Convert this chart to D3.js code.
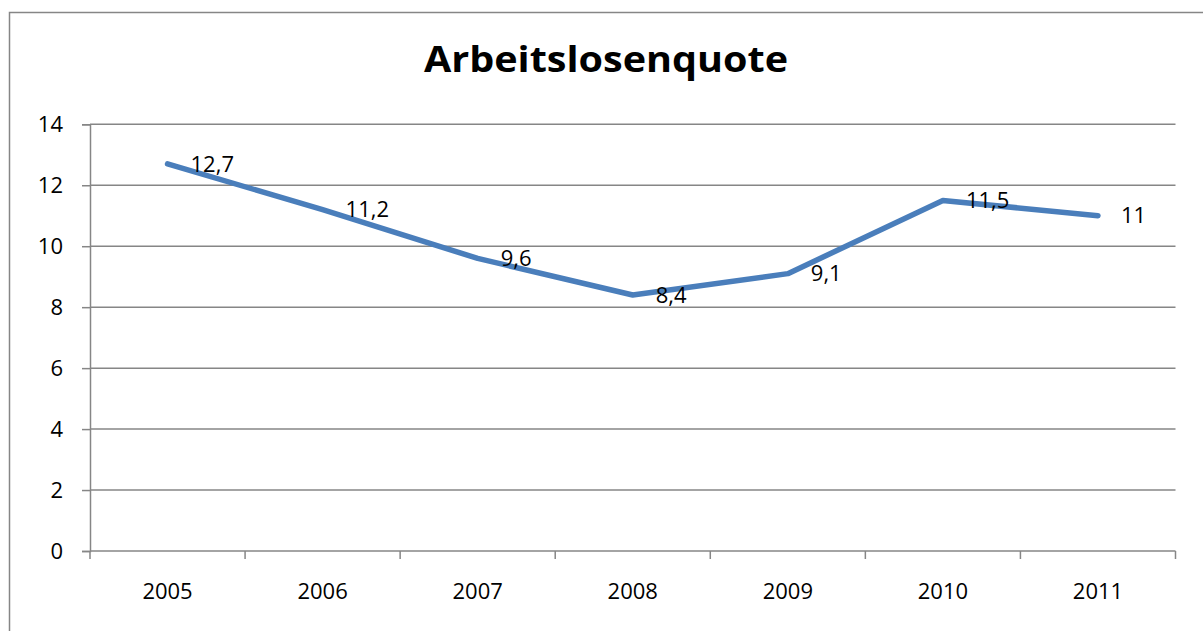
<!DOCTYPE html>
<html><head><meta charset="utf-8">
<script src="https://cdn.jsdelivr.net/npm/d3@7"></script>
<style>
html,body{margin:0;padding:0;background:#fff;}
svg{display:block;font-family:"Open Sans",sans-serif;}
</style></head>
<body>
<svg id="chart" width="1203" height="631"></svg>
<script>
const title = "Arbeitslosenquote";
const categories = ["2005","2006","2007","2008","2009","2010","2011"];
const values = [12.7, 11.2, 9.6, 8.4, 9.1, 11.5, 11];
const labels = ["12,7","11,2","9,6","8,4","9,1","11,5","11"];
const yTicks = [0,2,4,6,8,10,12,14];

const svg = d3.select("#chart");
const mLeft = 90, mRight = 1175.5, mTop = 124.3, mBottom = 551;

// outer border (top + left visible)
svg.append("path").attr("d","M9.5,631 L9.5,12.5 L1203,12.5")
  .attr("fill","none").attr("stroke","#868686").attr("stroke-width",1.5);

svg.append("text").attr("x",606).attr("y",72)
  .attr("text-anchor","middle").attr("font-weight","bold").attr("font-size",35)
  .attr("textLength",364).attr("lengthAdjust","spacingAndGlyphs")
  .attr("fill","#000").text(title);

const x = d3.scaleBand().domain(categories).range([mLeft,mRight]).padding(0);
const y = d3.scaleLinear().domain([0,14]).range([mBottom,mTop]);

// gridlines
svg.append("g").selectAll("line").data(yTicks.filter(d=>d>0)).join("line")
  .attr("x1",mLeft).attr("x2",mRight).attr("y1",d=>y(d)).attr("y2",d=>y(d))
  .attr("stroke","#868686").attr("stroke-width",1.5);

// y axis
const yAxis = svg.append("g").attr("transform",`translate(${mLeft},0)`)
  .call(d3.axisLeft(y).tickValues(yTicks).tickSize(8).tickPadding(19).tickFormat(d3.format("d")));
yAxis.select(".domain").attr("stroke","#868686").attr("stroke-width",1.5);
yAxis.selectAll(".tick line").attr("stroke","#868686").attr("stroke-width",1.5);
yAxis.selectAll("text").attr("font-size",22).attr("fill","#000").attr("font-family","Open Sans");

// x axis
const xAxis = svg.append("g").attr("transform",`translate(0,${mBottom})`)
  .call(d3.axisBottom(x).tickSize(0).tickPadding(32));
xAxis.select(".domain").remove();
xAxis.append("line").attr("x1",mLeft).attr("x2",mRight).attr("y1",0).attr("y2",0)
  .attr("stroke","#868686").attr("stroke-width",1.5);
const bounds = categories.map(c=>x(c)).concat([x(categories[categories.length-1])+x.bandwidth()]);
xAxis.selectAll(".bt").data(bounds).join("line").attr("class","bt")
  .attr("x1",d=>d).attr("x2",d=>d).attr("y1",0).attr("y2",8)
  .attr("stroke","#868686").attr("stroke-width",1.5);
xAxis.selectAll(".tick text").attr("font-size",22).attr("fill","#000").attr("font-family","Open Sans");

// line
const line = d3.line().x((d,i)=>x(categories[i])+x.bandwidth()/2).y(d=>y(d));
svg.append("path").datum(values).attr("d",line)
  .attr("fill","none").attr("stroke","#4a7ebb").attr("stroke-width",5.5)
  .attr("stroke-linecap","round").attr("stroke-linejoin","round");

// data labels
svg.append("g").selectAll("text").data(values).join("text")
  .attr("x",(d,i)=>x(categories[i])+x.bandwidth()/2+23)
  .attr("y",d=>y(d)).attr("dy","0.35em")
  .attr("font-size",22).attr("fill","#000")
  .text((d,i)=>labels[i]);
</script>
</body></html>
